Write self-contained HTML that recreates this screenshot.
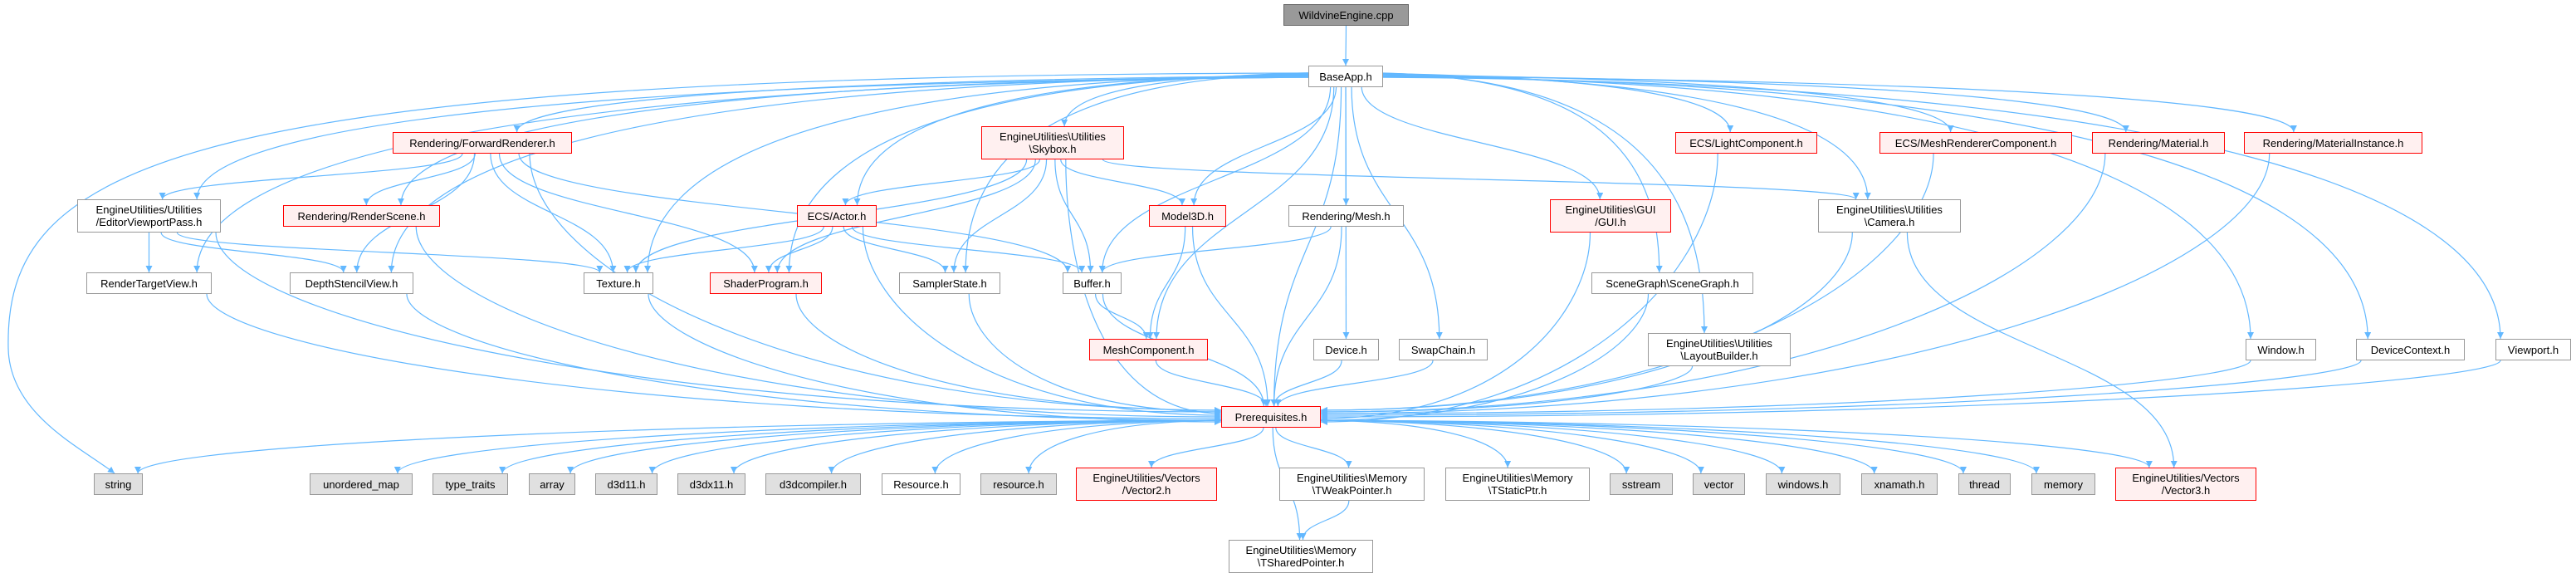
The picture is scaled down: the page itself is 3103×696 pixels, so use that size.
<!DOCTYPE html>
<html><head><meta charset="utf-8">
<style>
html,body{margin:0;padding:0;background:#fff;}
#c{position:relative;width:3103px;height:696px;overflow:hidden;background:#fff;}
svg{position:absolute;left:0;top:0;}
.n{position:absolute;box-sizing:border-box;border:1.5px solid #999;background:#fff;
font-family:"Liberation Sans","DejaVu Sans",sans-serif;font-size:13px;color:#000;
display:flex;align-items:center;justify-content:center;text-align:center;line-height:15px;white-space:pre;}
.r{border-color:#f00;background:#fff0f0;}
.g{background:#e0e0e0;border-color:#999;}
.root{background:#999;border-color:#666;}
</style></head><body>
<div id="c">
<svg id="s" width="3103" height="696" viewBox="0 0 3103 696">
<defs><marker id="a" viewBox="0 0 10 10" refX="10" refY="5" markerWidth="10" markerHeight="8" markerUnits="userSpaceOnUse" orient="auto"><path d="M0,0 L10,5 L0,10 z" fill="#63b8ff"/></marker></defs>
<g id="e" fill="none" stroke="#63b8ff" stroke-width="1.2"></g>
</svg>
<div class="n root" style="left:1546px;top:5px;width:151px;height:26px">WildvineEngine.cpp</div>
<div class="n" style="left:1576px;top:79px;width:90px;height:26px">BaseApp.h</div>
<div class="n r" style="left:473px;top:159px;width:216px;height:26px">Rendering/ForwardRenderer.h</div>
<div class="n r" style="left:1182px;top:152px;width:172px;height:40px">EngineUtilities\Utilities
\Skybox.h</div>
<div class="n r" style="left:2018px;top:159px;width:171px;height:26px">ECS/LightComponent.h</div>
<div class="n r" style="left:2264px;top:159px;width:232px;height:26px">ECS/MeshRendererComponent.h</div>
<div class="n r" style="left:2520px;top:159px;width:160px;height:26px">Rendering/Material.h</div>
<div class="n r" style="left:2703px;top:159px;width:215px;height:26px">Rendering/MaterialInstance.h</div>
<div class="n" style="left:93px;top:240px;width:173px;height:40px">EngineUtilities/Utilities
/EditorViewportPass.h</div>
<div class="n r" style="left:341px;top:247px;width:189px;height:26px">Rendering/RenderScene.h</div>
<div class="n r" style="left:960px;top:247px;width:96px;height:26px">ECS/Actor.h</div>
<div class="n r" style="left:1384px;top:247px;width:93px;height:26px">Model3D.h</div>
<div class="n" style="left:1552px;top:247px;width:139px;height:26px">Rendering/Mesh.h</div>
<div class="n r" style="left:1867px;top:240px;width:146px;height:40px">EngineUtilities\GUI
/GUI.h</div>
<div class="n" style="left:2190px;top:240px;width:172px;height:40px">EngineUtilities\Utilities
\Camera.h</div>
<div class="n" style="left:104px;top:328px;width:151px;height:26px">RenderTargetView.h</div>
<div class="n" style="left:349px;top:328px;width:149px;height:26px">DepthStencilView.h</div>
<div class="n" style="left:703px;top:328px;width:84px;height:26px">Texture.h</div>
<div class="n r" style="left:855px;top:328px;width:135px;height:26px">ShaderProgram.h</div>
<div class="n" style="left:1083px;top:328px;width:122px;height:26px">SamplerState.h</div>
<div class="n" style="left:1280px;top:328px;width:71px;height:26px">Buffer.h</div>
<div class="n" style="left:1917px;top:328px;width:195px;height:26px">SceneGraph\SceneGraph.h</div>
<div class="n r" style="left:1312px;top:408px;width:143px;height:26px">MeshComponent.h</div>
<div class="n" style="left:1582px;top:408px;width:79px;height:26px">Device.h</div>
<div class="n" style="left:1685px;top:408px;width:107px;height:26px">SwapChain.h</div>
<div class="n" style="left:1985px;top:401px;width:172px;height:40px">EngineUtilities\Utilities
\LayoutBuilder.h</div>
<div class="n" style="left:2705px;top:408px;width:85px;height:26px">Window.h</div>
<div class="n" style="left:2838px;top:408px;width:131px;height:26px">DeviceContext.h</div>
<div class="n" style="left:3006px;top:408px;width:91px;height:26px">Viewport.h</div>
<div class="n r" style="left:1471px;top:489px;width:120px;height:26px">Prerequisites.h</div>
<div class="n g" style="left:113px;top:570px;width:59px;height:26px">string</div>
<div class="n g" style="left:373px;top:570px;width:124px;height:26px">unordered_map</div>
<div class="n g" style="left:521px;top:570px;width:91px;height:26px">type_traits</div>
<div class="n g" style="left:637px;top:570px;width:56px;height:26px">array</div>
<div class="n g" style="left:717px;top:570px;width:75px;height:26px">d3d11.h</div>
<div class="n g" style="left:816px;top:570px;width:82px;height:26px">d3dx11.h</div>
<div class="n g" style="left:922px;top:570px;width:115px;height:26px">d3dcompiler.h</div>
<div class="n" style="left:1062px;top:570px;width:95px;height:26px">Resource.h</div>
<div class="n g" style="left:1181px;top:570px;width:92px;height:26px">resource.h</div>
<div class="n r" style="left:1296px;top:563px;width:170px;height:40px">EngineUtilities/Vectors
/Vector2.h</div>
<div class="n" style="left:1541px;top:563px;width:175px;height:40px">EngineUtilities\Memory
\TWeakPointer.h</div>
<div class="n" style="left:1741px;top:563px;width:174px;height:40px">EngineUtilities\Memory
\TStaticPtr.h</div>
<div class="n g" style="left:1939px;top:570px;width:76px;height:26px">sstream</div>
<div class="n g" style="left:2039px;top:570px;width:63px;height:26px">vector</div>
<div class="n g" style="left:2127px;top:570px;width:90px;height:26px">windows.h</div>
<div class="n g" style="left:2242px;top:570px;width:92px;height:26px">xnamath.h</div>
<div class="n g" style="left:2359px;top:570px;width:63px;height:26px">thread</div>
<div class="n g" style="left:2447px;top:570px;width:77px;height:26px">memory</div>
<div class="n r" style="left:2548px;top:563px;width:170px;height:40px">EngineUtilities/Vectors
/Vector3.h</div>
<div class="n" style="left:1480px;top:650px;width:174px;height:40px">EngineUtilities\Memory
\TSharedPointer.h</div>
</div>
<script>
var N={
root:[1546,1697,5,31],base:[1576,1666,79,104],fr:[473,689,159,185],sky:[1182,1354,152,192],
light:[2018,2189,159,185],mrc:[2264,2496,159,185],mat:[2520,2680,159,185],mati:[2703,2918,159,185],
evp:[93,266,240,280],rs:[341,530,247,273],actor:[960,1056,247,273],m3d:[1384,1477,247,273],mesh:[1552,1691,247,273],
gui:[1867,2013,240,280],cam:[2190,2362,240,280],rtv:[104,255,328,354],dsv:[349,498,328,354],tex:[703,787,328,354],
sp:[855,990,328,354],ss:[1083,1205,328,354],buf:[1280,1351,328,354],sg:[1917,2112,328,354],mc:[1312,1455,408,434],
dev:[1582,1661,408,434],sc:[1685,1792,408,434],lb:[1985,2157,401,441],win:[2705,2790,408,434],dc:[2838,2969,408,434],
vp:[3006,3097,408,434],pre:[1471,1591,489,515],
str:[113,172,570,596],um:[373,497,570,596],tt:[521,612,570,596],arr:[637,693,570,596],d11:[717,792,570,596],
dx11:[816,898,570,596],dcomp:[922,1037,570,596],Res:[1062,1157,570,596],res:[1181,1273,570,596],v2:[1296,1466,563,603],
twp:[1541,1716,563,603],tsp:[1741,1915,563,603],sst:[1939,2015,570,596],vec:[2039,2102,570,596],wh:[2127,2217,570,596],
xn:[2242,2334,570,596],thr:[2359,2422,570,596],mem:[2447,2524,570,596],v3:[2548,2718,563,603],tsh:[1480,1654,650,690]};
var E=[['root','base']];
'evp rtv dsv rs fr tex sp actor ss sky buf m3d mc mesh pre dev sc gui sg lb light mrc cam mat mati win dc vp'.split(' ').forEach(function(t){E.push(['base',t]);});
'evp rs dsv tex sp pre buf'.split(' ').forEach(function(t){E.push(['fr',t]);});
'rtv dsv tex pre'.split(' ').forEach(function(t){E.push(['evp',t]);});
'actor ss buf m3d tex sp pre cam'.split(' ').forEach(function(t){E.push(['sky',t]);});
'tex sp ss buf pre'.split(' ').forEach(function(t){E.push(['actor',t]);});
E.push(['m3d','mc'],['m3d','pre'],['mesh','buf'],['mesh','pre'],['buf','mc'],['buf','pre'],['cam','pre'],['cam','v3']);
'rs rtv dsv tex sp ss mc dev sc lb win dc vp gui sg light mrc mat mati'.split(' ').forEach(function(s){E.push([s,'pre']);});
'str um tt arr d11 dx11 dcomp Res res v2 twp tsp sst vec wh xn thr mem v3 tsh'.split(' ').forEach(function(t){E.push(['pre',t]);});
E.push(['twp','tsh']);
var g=document.getElementById('e'),h='';
function cl(v,a,b){return Math.max(a,Math.min(b,v));}
function P(a,b,c,d){return '<path d="M'+a[0]+','+a[1]+' C'+b[0]+','+b[1]+' '+c[0]+','+c[1]+' '+d[0]+','+d[1]+'" marker-end="url(#a)"/>';}
var li=0,ri=0;
E.forEach(function(e){var s=N[e[0]],t=N[e[1]];
var scx=(s[0]+s[1])/2,tcx=(t[0]+t[1])/2;
var sx=cl(scx+(tcx-scx)*0.06,s[0]+6,s[1]-6),sy=s[3];
var tx=cl(tcx+(scx-tcx)*0.04,t[0]+6,t[1]-6),ty=t[2];
var dx=tcx-scx,dy=ty-sy;
if(e[0]=='base'&&Math.abs(dx)>350){
  var x0=dx<0?s[0]:s[1],y0=86+Math.min(14,Math.abs(dx)/200);
  h+=P([x0,y0],[x0+dx*0.7,y0+6],[tx,ty-dy*0.55],[tx,ty]);return;}
if(e[1]=='pre'&&Math.abs(dx)>260){
  var x1=dx>0?t[0]:t[1],y1=dx>0?(494+(li++%8)*2):(494+(ri++%8)*2);
  h+=P([sx,sy],[sx,sy+dy*0.45],[x1-dx*0.55,y1],[x1,y1]);return;}
if(e[0]=='pre'&&Math.abs(dx)>260){
  var x2=dx<0?s[0]:s[1];
  h+=P([x2,506],[x2+dx*0.5,508],[tx,ty-dy*0.6],[tx,ty]);return;}
h+=P([sx,sy],[sx,sy+dy*0.5],[tx,ty-dy*0.5],[tx,ty]);});
/* BaseApp -> string: routed around far left */
h+=P([1576,88],[200,90],[5,200],[10,420]).replace(' marker-end="url(#a)"','');
h+=P([10,420],[12,500],[100,540],[138,570]);
g.innerHTML=h;
</script>
</body></html>
